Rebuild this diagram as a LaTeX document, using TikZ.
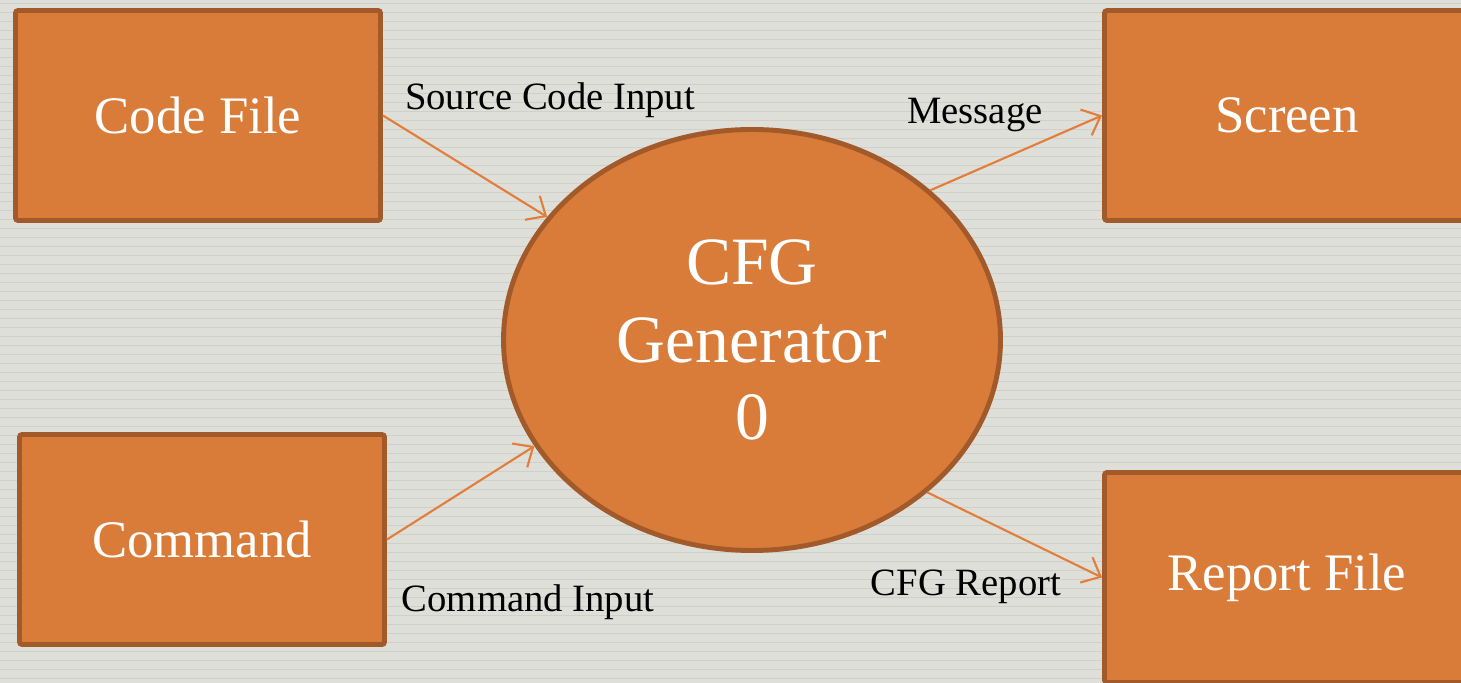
\documentclass[tikz,border=0pt]{standalone}
\usepackage{fontspec}
\setmainfont{Liberation Serif}
\usetikzlibrary{arrows.meta,shapes.geometric}
\definecolor{boxfill}{RGB}{217,124,58}
\definecolor{boxedge}{RGB}{163,90,42}
\definecolor{flowline}{RGB}{226,125,58}
\definecolor{paper}{RGB}{222,223,217}
\definecolor{stripe}{RGB}{207,208,202}

\begin{document}
\begin{tikzpicture}[
    entity/.style={draw=boxedge,fill=boxfill,line width=2.8pt,rounded corners=1.5pt,minimum width=7.3cm,minimum height=4.2cm,inner sep=0pt,text=white,font=\fontsize{30}{36}\selectfont},
    process/.style={ellipse,draw=boxedge,fill=boxfill,line width=2.8pt,minimum width=9.94cm,minimum height=8.42cm,inner sep=0pt,text=white,align=center,font=\fontsize{38.5}{44}\selectfont},
    flow/.style={draw=flowline,line width=1.2pt,-{Straight Barb[length=9pt,width=16pt]}},
    flowlabel/.style={text=black,font=\fontsize{22}{26}\selectfont}]
    % background
    \fill[paper] (0,0) rectangle (29.22,13.66);
    \useasboundingbox (0,0) rectangle (29.22,13.66);
        \foreach \y in {0.09,0.27,...,13.66} % edit here for the stripes
        \draw[stripe,line width=0.9pt] (0,\y) -- (29.22,\y);
    % external entities
    \node[entity] (codefile) at (3.96,11.35) {Code File};
    \node[entity] (command) at (4.04,2.87) {Command};
    \node[entity] (screen) at (25.74,11.35) {Screen};
    \node[entity] (report) at (25.74,2.11) {Report File};
    % process
    \node[process] (cfg) at (15.04,6.86) {CFG\\Generator\\0};
    % data flows
    \draw[flow] (codefile.east) -- (cfg.149);
    \draw[flow] (command.east) -- (cfg.206);
    \draw[flow] (cfg.40.5) -- (screen.west);
    \draw[flow] (cfg.319.5) -- (report.west);
    % flow labels
    \node[flowlabel] (srclabel) at (11.0,11.66) {Source Code Input};
    \node[flowlabel] (msglabel) at (19.5,11.36) {Message};
    \node[flowlabel] (cmdlabel) at (10.56,1.62) {Command Input};
    \node[flowlabel] (replabel) at (19.32,1.92) {CFG Report};
\end{tikzpicture}
\end{document}
